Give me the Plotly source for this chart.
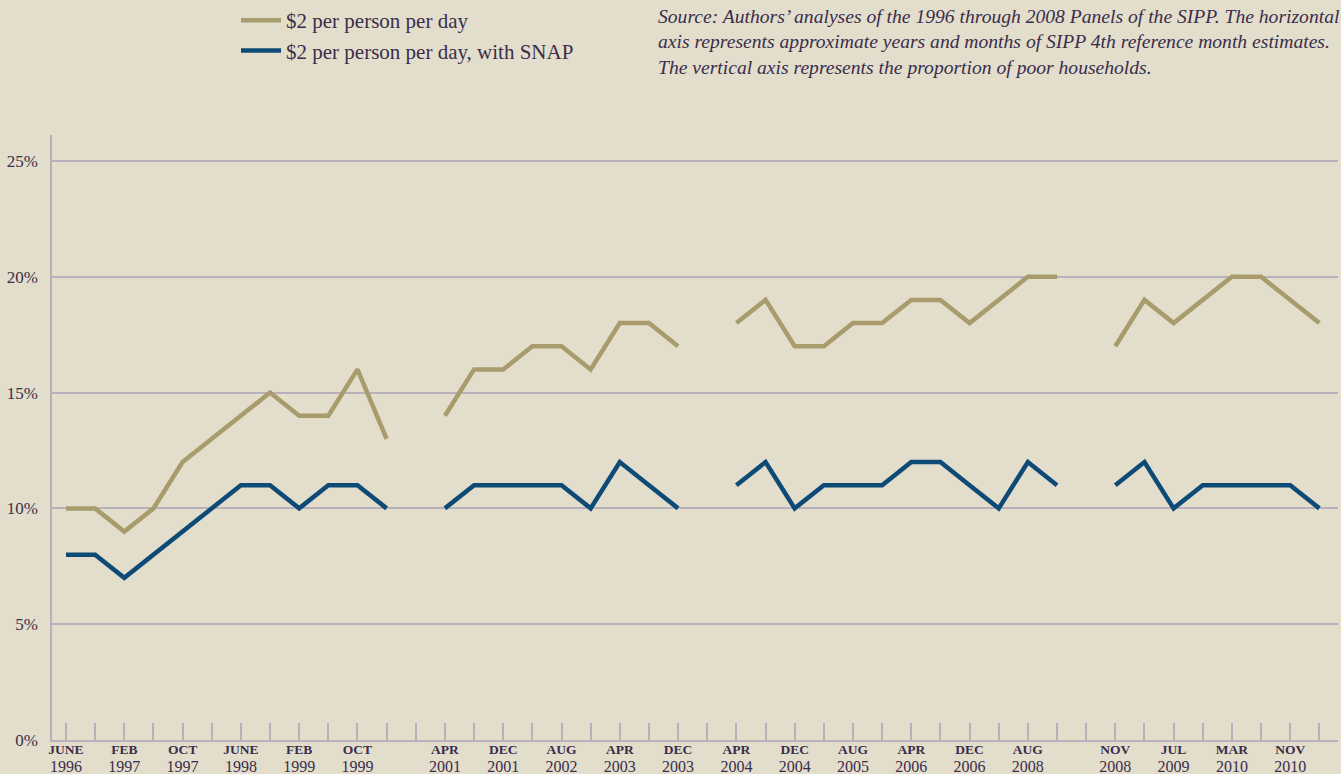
import plotly.graph_objects as go

# ---- data ----
positions = list(range(44))
no_snap = [10, 10, 9, 10, 12, 13, 14, 15, 14, 14, 16, 13, None,
           14, 16, 16, 17, 17, 16, 18, 18, 17, None,
           18, 19, 17, 17, 18, 18, 19, 19, 18, 19, 20, 20, None,
           17, 19, 18, 19, 20, 20, 19, 18]
with_snap = [8, 8, 7, 8, 9, 10, 11, 11, 10, 11, 11, 10, None,
             10, 11, 11, 11, 11, 10, 12, 11, 10, None,
             11, 12, 10, 11, 11, 11, 12, 12, 11, 10, 12, 11, None,
             11, 12, 10, 11, 11, 11, 11, 10]
label_pos = [0, 2, 4, 6, 8, 10, 13, 15, 17, 19, 21, 23, 25, 27, 29, 31, 33, 36, 38, 40, 42]
label_month = ["JUNE", "FEB", "OCT", "JUNE", "FEB", "OCT", "APR", "DEC", "AUG", "APR", "DEC",
               "APR", "DEC", "AUG", "APR", "DEC", "AUG", "NOV", "JUL", "MAR", "NOV"]
label_year = ["1996", "1997", "1997", "1998", "1999", "1999", "2001", "2001", "2002", "2003", "2003",
              "2004", "2004", "2005", "2006", "2006", "2008", "2008", "2009", "2010", "2010"]
y_ticks = [0, 5, 10, 15, 20, 25]

BG = "#e3ddcb"
TAN = "#a89c6d"
BLUE = "#0d4a76"
GRID = "#b9b0bd"
TXT = "#3a2e4b"
FONT = "Liberation Serif"

lab = {p: f"<b>{m}</b><br><span style='font-size:16px'>{y}</span>"
       for p, m, y in zip(label_pos, label_month, label_year)}
ticktext = [lab.get(p, "") for p in positions]

fig = go.Figure()
fig.add_trace(go.Scatter(x=positions, y=no_snap, mode="lines", name="$2 per person per day",
                         line=dict(color=TAN, width=4.5), connectgaps=False))
fig.add_trace(go.Scatter(x=positions, y=with_snap, mode="lines", name="$2 per person per day, with SNAP",
                         line=dict(color=BLUE, width=4.5), connectgaps=False))

src = ["Source: Authors’ analyses of the 1996 through 2008 Panels of the SIPP. The horizontal",
       "axis represents approximate years and months of SIPP 4th reference month estimates.",
       "The vertical axis represents the proportion of poor households."]

fig.update_layout(
    width=1341, height=774,
    paper_bgcolor=BG, plot_bgcolor=BG,
    margin=dict(l=52, r=3, t=135, b=34, autoexpand=False),
    font=dict(family=FONT, color=TXT, size=16),
    showlegend=True,
    legend=dict(x=0.176, y=1.0, xref="container", yref="container", xanchor="left", yanchor="top",
                bgcolor="rgba(0,0,0,0)", font=dict(size=21, color=TXT), tracegroupgap=9, itemwidth=40),
    xaxis=dict(range=[-0.48, 43.64], tickmode="array", tickvals=positions, ticktext=ticktext,
               ticks="inside", ticklen=17, tickcolor=GRID, tickwidth=1.5, automargin=False,
               showgrid=False, zeroline=False, showline=True, linecolor=GRID, linewidth=2,
               tickfont=dict(size=13.5, color=TXT), tickangle=0, ticklabelstandoff=-4),
    yaxis=dict(range=[0, 26.12], tickmode="array", tickvals=y_ticks, automargin=False,
               ticktext=[f"{v}%" for v in y_ticks], ticks="",
               showgrid=True, gridcolor=GRID, gridwidth=1.5, zeroline=False,
               showline=True, linecolor=GRID, linewidth=1.5,
               tickfont=dict(size=17, color=TXT), ticklabelstandoff=9),
    annotations=[dict(
        text="<br>".join(f"<i>{s}</i>" for s in src),
        xref="paper", yref="paper", x=(656 - 52) / 1286, y=1.216, xanchor="left", yanchor="top",
        align="left", showarrow=False, font=dict(size=19.6, color=TXT, family=FONT),
    )],
)

fig.write_html("out.html", config={"displayModeBar": False},
               post_script="document.body.style.margin='0';document.body.style.background='%s';"
                           "document.body.style.overflow='hidden';" % BG)
